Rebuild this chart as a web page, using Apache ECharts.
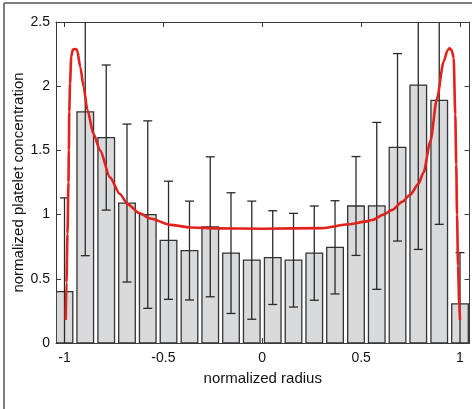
<!DOCTYPE html>
<html>
<head>
<meta charset="utf-8">
<script src="https://cdn.jsdelivr.net/npm/echarts@6/dist/echarts.min.js"></script>
<style>
html,body{margin:0;padding:0;background:#fff;}
#chart{width:472px;height:409px;}
</style>
</head>
<body>
<div id="chart"></div>
<script>
// Bin centres (normalized radius)
var binCenters = [-1, -0.895, -0.789, -0.684, -0.579, -0.474, -0.368, -0.263, -0.158, -0.053,
                  0.053, 0.158, 0.263, 0.368, 0.474, 0.579, 0.684, 0.789, 0.895, 1];
// Mean normalized platelet concentration per bin
var meanValues = [0.40, 1.80, 1.60, 1.09, 1.00, 0.80, 0.72, 0.905, 0.70, 0.645,
                  0.665, 0.645, 0.70, 0.745, 1.067, 1.068, 1.524, 2.009, 1.89, 0.304];
// Error bar half-lengths
var errValues = [0.73, 1.12, 0.565, 0.615, 0.73, 0.46, 0.385, 0.545, 0.47, 0.46,
                 0.365, 0.365, 0.367, 0.363, 0.385, 0.65, 0.73, 1.28, 0.966, 0.40];
// Fitted profile (red curve)
var curveX = [-0.994, -0.990, -0.985, -0.980, -0.978, -0.976, -0.972, -0.966, -0.958, -0.947,
              -0.937, -0.920, -0.904, -0.884, -0.854, -0.820, -0.770, -0.720, -0.680, -0.620,
              -0.567, -0.465, -0.364, -0.229, 0.000, 0.302, 0.438, 0.521, 0.556, 0.613,
              0.657, 0.708, 0.748, 0.790, 0.816, 0.850, 0.883, 0.917, 0.937, 0.947,
              0.958, 0.968, 0.976, 0.981, 0.985, 0.990, 0.996, 1.000];
var curveY = [0.18, 0.47, 0.85, 1.25, 1.50, 1.80, 2.02, 2.23, 2.285, 2.29,
              2.285, 2.15, 2.00, 1.815, 1.63, 1.50, 1.29, 1.16, 1.08, 1.01,
              0.97, 0.92, 0.90, 0.893, 0.89, 0.895, 0.925, 0.945, 0.958, 1.00,
              1.037, 1.10, 1.155, 1.24, 1.33, 1.57, 1.90, 2.19, 2.28, 2.295,
              2.28, 2.22, 1.78, 1.39, 1.00, 0.60, 0.30, 0.18];
var xTicks = [-1, -0.5, 0, 0.5, 1];
var yTicks = [0, 0.5, 1, 1.5, 2, 2.5];
var binWidth = 0.084;

var X_MIN = -1.043, X_MAX = 1.048, Y_MIN = 0, Y_MAX = 2.5;
var FONT = "'Liberation Sans', Arial, Helvetica, sans-serif";

var barData = binCenters.map(function (x, i) { return [x, meanValues[i], errValues[i]]; });
var curveData = curveX.map(function (x, i) { return [x, curveY[i]]; });

var chart = echarts.init(document.getElementById('chart'), null, {renderer: 'canvas'});

var axisLineStyle = {color: '#3a3a3a', width: 1};
function xAxisCfg(pos, showLabel) {
  return {
    type: 'value', position: pos, min: X_MIN, max: X_MAX,
    axisLine: {show: true, onZero: false, lineStyle: axisLineStyle},
    axisTick: {show: true, inside: true, length: 5, lineStyle: axisLineStyle, customValues: xTicks},
    axisLabel: {show: showLabel, customValues: xTicks, fontSize: 14, color: '#111', fontFamily: FONT, margin: 8},
    splitLine: {show: false}
  };
}
function yAxisCfg(pos, showLabel) {
  return {
    type: 'value', position: pos, min: Y_MIN, max: Y_MAX,
    axisLine: {show: true, onZero: false, lineStyle: axisLineStyle},
    axisTick: {show: true, inside: true, length: 5, lineStyle: axisLineStyle, customValues: yTicks},
    axisLabel: {show: showLabel, customValues: yTicks, fontSize: 14, color: '#111', fontFamily: FONT, margin: 6},
    splitLine: {show: false}
  };
}

var xBottom = xAxisCfg('bottom', true);
xBottom.name = 'normalized radius';
xBottom.nameLocation = 'middle';
xBottom.nameGap = 28;
xBottom.nameMoveOverlap = false;
xBottom.nameTextStyle = {fontSize: 15, color: '#111', fontFamily: FONT};
var yLeft = yAxisCfg('left', true);
yLeft.name = 'normalized platelet concentration';
yLeft.nameLocation = 'middle';
yLeft.nameGap = 30;
yLeft.nameMoveOverlap = false;
yLeft.nameTextStyle = {fontSize: 15, color: '#111', fontFamily: FONT};

var option = {
  backgroundColor: '#fff',
  animation: false,
  grid: {left: 56, right: 2.5, top: 22, bottom: 66, containLabel: false, outerBoundsMode: 'none'},
  xAxis: [xBottom, xAxisCfg('top', false)],
  yAxis: [yLeft, yAxisCfg('right', false)],
  graphic: [
    {type: 'line', shape: {x1: 4, y1: 3, x2: 472, y2: 3}, style: {stroke: '#555', lineWidth: 1.5}, silent: true},
    {type: 'line', shape: {x1: 4, y1: 3, x2: 4, y2: 409}, style: {stroke: '#555', lineWidth: 1.5}, silent: true}
  ],
  series: [
    {
      type: 'custom', xAxisIndex: 0, yAxisIndex: 0, clip: true, z: 2,
      data: barData,
      encode: {x: 0, y: 1},
      renderItem: function (params, api) {
        var x = api.value(0), m = api.value(1), e = api.value(2);
        var p0 = api.coord([x - binWidth / 2, 0]);
        var p1 = api.coord([x + binWidth / 2, m]);
        var children = [{
          type: 'rect',
          shape: {x: p0[0], y: p1[1], width: p1[0] - p0[0], height: p0[1] - p1[1]},
          style: {fill: '#d9dadc', stroke: '#333', lineWidth: 1.3}
        }];
        var hi = m + e, lo = m - e;
        var top = api.coord([x, Math.min(hi, Y_MAX)]);
        var bot = api.coord([x, Math.max(lo, Y_MIN)]);
        var cap = 4.5;
        var es = {stroke: '#2a2a2a', lineWidth: 1.3};
        children.push({type: 'line', shape: {x1: top[0], y1: top[1], x2: bot[0], y2: bot[1]}, style: es});
        if (hi <= Y_MAX) children.push({type: 'line', shape: {x1: top[0] - cap, y1: top[1], x2: top[0] + cap, y2: top[1]}, style: es});
        if (lo >= Y_MIN) children.push({type: 'line', shape: {x1: bot[0] - cap, y1: bot[1], x2: bot[0] + cap, y2: bot[1]}, style: es});
        return {type: 'group', children: children};
      }
    },
    {
      type: 'line', xAxisIndex: 0, yAxisIndex: 0, z: 5,
      data: curveData, showSymbol: false, symbol: 'none',
      smooth: 0.25, smoothMonotone: 'x',
      lineStyle: {color: '#e2221c', width: 2.6}
    }
  ]
};
chart.setOption(option);
</script>
</body>
</html>
